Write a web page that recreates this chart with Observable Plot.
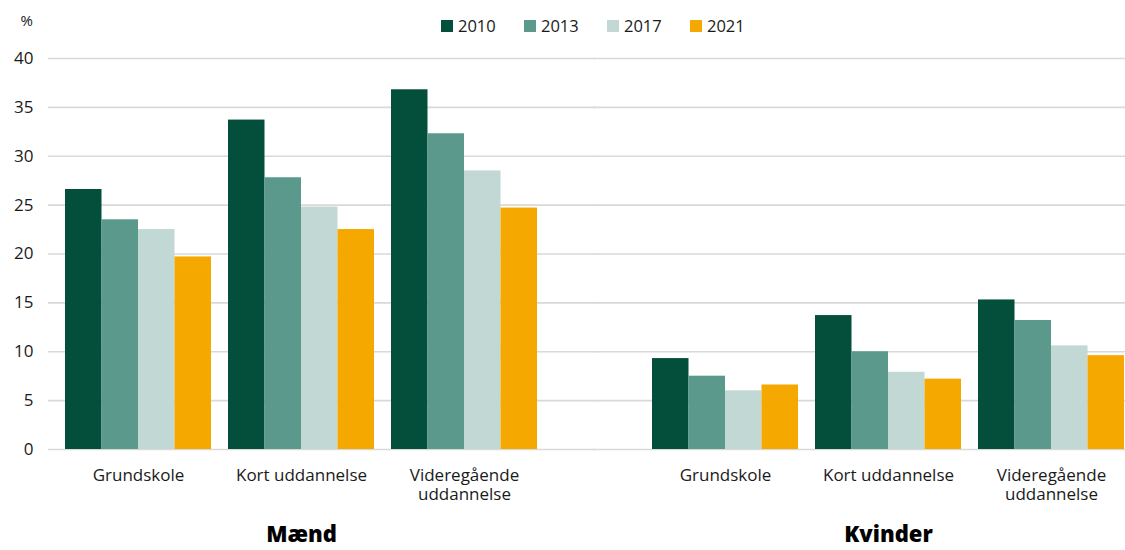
<!DOCTYPE html>
<html><head><meta charset="utf-8">
<script src="https://cdn.jsdelivr.net/npm/d3@7"></script>
<script src="https://cdn.jsdelivr.net/npm/@observablehq/plot@0.6"></script>
<style>
body{margin:0;background:#fff;font-family:"Open Sans",sans-serif;}
#wrap{position:relative;width:1125px;height:550px;}
#legend{position:absolute;top:15px;left:441px;display:flex;font-size:16.5px;color:#1a1a1a;line-height:22px;}
#legend .item{display:flex;align-items:center;width:83px;}
#legend .sw{width:12px;height:12px;margin-right:5px;}
</style></head><body><div id="wrap"><div id="legend"></div></div>
<script>
const years = ["2010", "2013", "2017", "2021"];
const colors = ["#034f3b", "#5a998c", "#c1d8d4", "#f5a800"];
const genders = ["Mænd", "Kvinder"];
const educations = ["Grundskole", "Kort uddannelse", "Videregående uddannelse"];
const eduLabels = ["Grundskole", "Kort uddannelse", "Videregående\nuddannelse"];
const yTicks = [0, 5, 10, 15, 20, 25, 30, 35, 40];

const maend2010 = [26.6, 33.7, 36.8];
const maend2013 = [23.5, 27.8, 32.3];
const maend2017 = [22.5, 24.8, 28.5];
const maend2021 = [19.7, 22.5, 24.7];
const kvinder2010 = [9.3, 13.7, 15.3];
const kvinder2013 = [7.5, 10.0, 13.2];
const kvinder2017 = [6.0, 7.9, 10.6];
const kvinder2021 = [6.6, 7.2, 9.6];

const series = {
  "Mænd": [maend2010, maend2013, maend2017, maend2021],
  "Kvinder": [kvinder2010, kvinder2013, kvinder2017, kvinder2021]
};
const rows = [];
for (const g of genders) years.forEach((y, k) => educations.forEach((e, i) => rows.push({gender: g, year: y, edu: e, value: series[g][k][i]})));
const grid = genders.flatMap(g => yTicks.map(t => ({gender: g, y: t})));

const W = 1125, H = 550, mL = 48, mR = 0, mT = 58, mB = 101;
const fxOpts = {domain: genders, paddingInner: 0.192, paddingOuter: 0.0119, align: 1};
const xOpts = {domain: educations, paddingInner: 0.104, paddingOuter: 0};

// measure band widths from the scales
const probe = Plot.plot({width: W, height: H, marginLeft: mL, marginRight: mR, marginTop: mT, marginBottom: mB,
  fx: fxOpts, x: xOpts, y: {domain: [0, 40]}, marks: [Plot.barY(rows, {fx: "gender", x: "edu", y: "value"})]});
const bw = probe.scale("x").bandwidth;
const fxs = probe.scale("fx");
const sub = bw / years.length;
const gapMid = (fxs.step - fxs.bandwidth) / 2;
const leftExt = fxs.apply(genders[0]) - mL;

const chart = Plot.plot({
  width: W, height: H,
  marginLeft: mL, marginRight: mR, marginTop: mT, marginBottom: mB,
  style: {fontFamily: "Open Sans, sans-serif", color: "#1a1a1a", background: "#fff"},
  fx: fxOpts,
  x: xOpts,
  y: {domain: [0, 40]},
  color: {domain: years, range: colors},
  marks: [
    Plot.ruleY(grid.filter(d => d.gender === genders[0]), {fx: "gender", y: "y", stroke: "#d9d9d9", strokeWidth: 1.6, insetLeft: -leftExt, insetRight: -gapMid - 1}),
    Plot.ruleY(grid.filter(d => d.gender === genders[1]), {fx: "gender", y: "y", stroke: "#d9d9d9", strokeWidth: 1.6, insetLeft: -gapMid - 1, insetRight: 0}),
    ...years.map((yr, k) => Plot.barY(rows.filter(d => d.year === yr), {
      fx: "gender", x: "edu", y: "value", fill: "year",
      insetLeft: k * sub, insetRight: (years.length - 1 - k) * sub
    })),
    Plot.axisY({ticks: yTicks, tickSize: 0, tickPadding: 31, fontSize: 17, label: null}),
    Plot.axisX({anchor: "bottom", tickSize: 0, tickPadding: 18, fontSize: 17, lineHeight: 1.12, label: null,
      tickFormat: d => eduLabels[educations.indexOf(d)]}),
    Plot.axisFx({anchor: "bottom", tickSize: 0, tickPadding: 77, fontSize: 22, fontWeight: 800, fill: "#000", label: null}),
    Plot.text(["%"], {facet: "super", frameAnchor: "top-left", dx: -44, dy: -43, fontSize: 15})
  ]
});
document.getElementById("wrap").prepend(chart);

const leg = document.getElementById("legend");
years.forEach((y, k) => {
  const it = document.createElement("div"); it.className = "item";
  const sw = document.createElement("span"); sw.className = "sw"; sw.style.background = colors[k];
  const t = document.createElement("span"); t.textContent = y;
  it.append(sw, t); leg.append(it);
});
</script></body></html>
